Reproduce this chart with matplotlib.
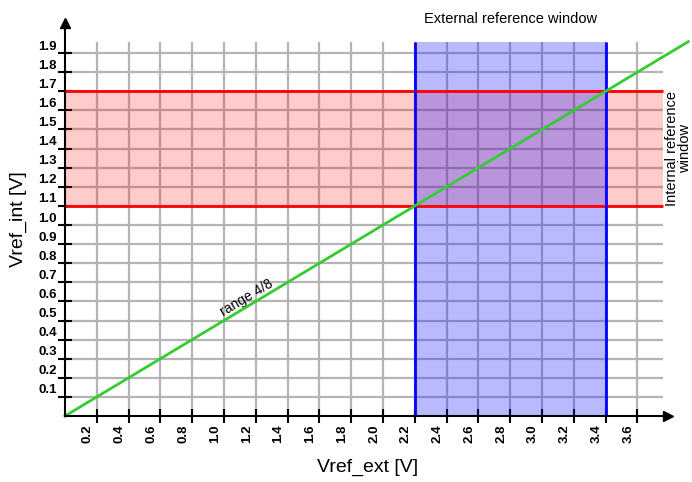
import matplotlib
matplotlib.use("Agg")
import matplotlib.pyplot as plt
from matplotlib.transforms import ScaledTranslation

plt.rcParams['font.family'] = ['Liberation Sans', 'DejaVu Sans']

# ---- data ----
x_ticks = [0.2, 0.4, 0.6, 0.8, 1.0, 1.2, 1.4, 1.6, 1.8, 2.0, 2.2, 2.4, 2.6, 2.8, 3.0, 3.2, 3.4, 3.6]
x_tick_labels = ["0.2", "0.4", "0.6", "0.8", "1.0", "1.2", "1.4", "1.6", "1.8", "2.0",
                 "2.2", "2.4", "2.6", "2.8", "3.0", "3.2", "3.4", "3.6"]
y_ticks = [0.1, 0.2, 0.3, 0.4, 0.5, 0.6, 0.7, 0.8, 0.9, 1.0,
           1.1, 1.2, 1.3, 1.4, 1.5, 1.6, 1.7, 1.8, 1.9]
y_tick_labels = ["0.1", "0.2", "0.3", "0.4", "0.5", "0.6", "0.7", "0.8", "0.9", "1.0",
                 "1.1", "1.2", "1.3", "1.4", "1.5", "1.6", "1.7", "1.8", "1.9"]
range_line_x = [0.0, 3.92]
range_line_y = [0.0, 1.96]
ext_window = [2.2, 3.4]   # Vref_ext
int_window = [1.1, 1.7]   # Vref_int

grid_x_end = 3.76
grid_y_end = 1.96
x_axis_end = 3.79
y_axis_end = 2.06

fig = plt.figure(figsize=(6.92, 4.82), dpi=100)
ax = fig.add_axes([0, 0, 1, 1])
ax.set_xlim(-65 / 159, (692 - 65) / 159)
ax.set_ylim((416 - 482) / 191, 416 / 191)
ax.patch.set_alpha(0)

# grid
ax.hlines(y_ticks, 0, grid_x_end, color='#b4b4b4', lw=1.6, zorder=1)
ax.vlines(x_ticks, 0, grid_y_end, color='#b4b4b4', lw=1.6, zorder=1)

# windows
ax.fill_between([0, grid_x_end], int_window[0], int_window[1], color='#ff0000', alpha=0.2, lw=0, zorder=2)
ax.fill_betweenx([0, grid_y_end], ext_window[0], ext_window[1], color='#1a1aff', alpha=0.3, lw=0, zorder=2)
ax.hlines(int_window, 0, grid_x_end, color='#ff0000', lw=2, zorder=3)
ax.vlines(ext_window, 0, grid_y_end, color='#0000ff', lw=2, zorder=4)

# range line
ax.plot(range_line_x, range_line_y, color='#33cc33', lw=2, zorder=5)

# axes spines
for s in ['top', 'right']:
    ax.spines[s].set_visible(False)
ax.spines['left'].set_position(('data', 0))
ax.spines['bottom'].set_position(('data', 0))
ax.spines['left'].set_bounds(0, y_axis_end)
ax.spines['bottom'].set_bounds(0, x_axis_end)
ax.spines['left'].set_linewidth(1.5)
ax.spines['bottom'].set_linewidth(1.5)
ax.spines['left'].set_zorder(6)
ax.spines['bottom'].set_zorder(6)
ax.plot([0], [y_axis_end], marker='^', color='black', ms=7, clip_on=False, zorder=7)
ax.plot([x_axis_end], [0], marker='>', color='black', ms=7, clip_on=False, zorder=7)

ax.set_xticks(x_ticks)
ax.set_xticklabels(x_tick_labels, rotation=90, fontsize=9.5, fontweight='bold', va='top', ha='center')
ax.set_yticks(y_ticks)
ax.set_yticklabels(y_tick_labels, fontsize=9.5, fontweight='bold')
ax.tick_params(axis='both', direction='inout', length=10, width=1.5, pad=1)
for lab in ax.get_yticklabels():
    lab.set_transform(lab.get_transform() + ScaledTranslation(0, 8 / 100, fig.dpi_scale_trans))
for lab in ax.get_xticklabels():
    lab.set_transform(lab.get_transform() + ScaledTranslation(-9 / 100, 0, fig.dpi_scale_trans))

# texts
ax.text(1.9, -0.267, "Vref_ext [V]", fontsize=14, ha='center', va='center')
ax.text(-0.29, 1.03, "Vref_int [V]", fontsize=14, ha='center', va='center', rotation=90)
ax.text(2.8, 2.078, "External reference window", fontsize=10.5, ha='center', va='center')
ax.text(3.86, 1.4, "Internal reference\nwindow", fontsize=10.5, ha='center', va='center',
        rotation=90, linespacing=0.95)
ax.text(1.145, 0.618, "range 4/8", fontsize=10, ha='center', va='center', rotation=31)

fig.savefig("out.png", dpi=100)
